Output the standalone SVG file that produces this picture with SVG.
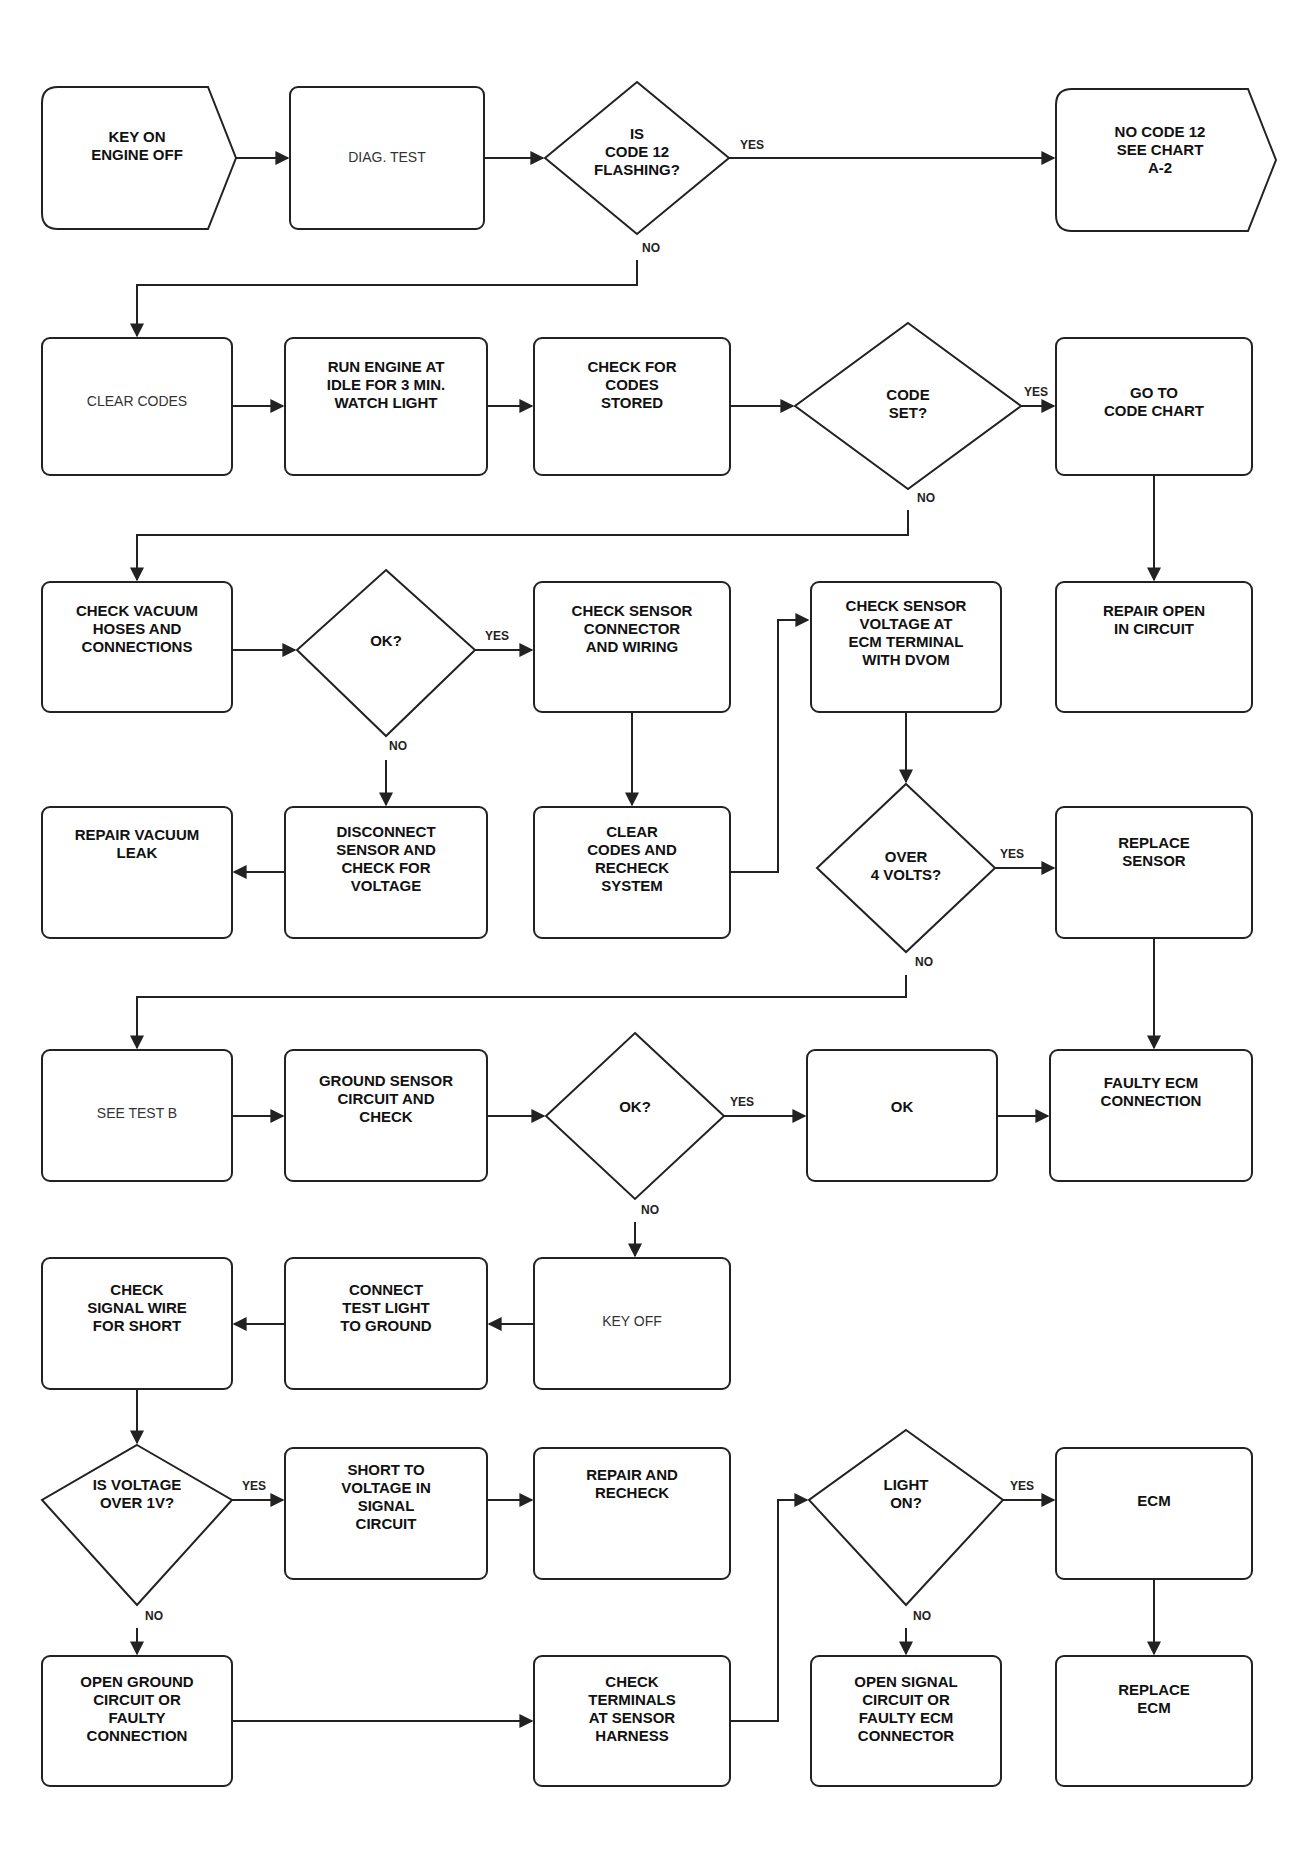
<svg xmlns="http://www.w3.org/2000/svg" width="1306" height="1855" viewBox="0 0 1306 1855">
<defs>
<marker id="ah" viewBox="0 0 10 10" refX="9" refY="5" markerWidth="7" markerHeight="7" orient="auto"><path d="M0,0 L10,5 L0,10 z" fill="#222"/></marker>
<style>
.b{fill:#fff;stroke:#222;stroke-width:2}
.c{fill:none;stroke:#222;stroke-width:2;marker-end:url(#ah)}
.t{font-family:"Liberation Sans",Arial,sans-serif;font-size:15px;font-weight:bold;text-anchor:middle;fill:#111}
.tl{font-family:"Liberation Sans",Arial,sans-serif;font-size:14px;text-anchor:middle;fill:#333}
.l{font-family:"Liberation Sans",Arial,sans-serif;font-size:12px;font-weight:bold;text-anchor:middle;fill:#222}
</style>
</defs>
<rect width="1306" height="1855" fill="#fff"/>
<g id="connectors">
<line class="c" x1="236" y1="158" x2="288" y2="158"/>
<line class="c" x1="484" y1="158" x2="543" y2="158"/>
<line class="c" x1="729" y1="158" x2="1054" y2="158"/>
<polyline class="c" points="637,260 637,285 137,285 137,336"/>
<line class="c" x1="232" y1="406" x2="283" y2="406"/>
<line class="c" x1="487" y1="406" x2="532" y2="406"/>
<line class="c" x1="730" y1="406" x2="793" y2="406"/>
<line class="c" x1="1021" y1="406" x2="1054" y2="406"/>
<polyline class="c" points="908,510 908,535 137,535 137,580"/>
<line class="c" x1="1154" y1="475" x2="1154" y2="580"/>
<line class="c" x1="232" y1="650" x2="295" y2="650"/>
<line class="c" x1="475" y1="650" x2="532" y2="650"/>
<line class="c" x1="386" y1="760" x2="386" y2="805"/>
<line class="c" x1="632" y1="712" x2="632" y2="805"/>
<line class="c" x1="906" y1="712" x2="906" y2="782"/>
<line class="c" x1="285" y1="872" x2="234" y2="872"/>
<polyline class="c" points="730,872 778,872 778,620 808,620"/>
<line class="c" x1="995" y1="868" x2="1054" y2="868"/>
<line class="c" x1="1154" y1="938" x2="1154" y2="1048"/>
<polyline class="c" points="906,975 906,997 137,997 137,1048"/>
<line class="c" x1="232" y1="1116" x2="283" y2="1116"/>
<line class="c" x1="487" y1="1116" x2="544" y2="1116"/>
<line class="c" x1="724" y1="1116" x2="805" y2="1116"/>
<line class="c" x1="997" y1="1116" x2="1048" y2="1116"/>
<line class="c" x1="635" y1="1222" x2="635" y2="1256"/>
<line class="c" x1="534" y1="1324" x2="489" y2="1324"/>
<line class="c" x1="285" y1="1324" x2="234" y2="1324"/>
<line class="c" x1="137" y1="1389" x2="137" y2="1443"/>
<line class="c" x1="232" y1="1500" x2="283" y2="1500"/>
<line class="c" x1="487" y1="1500" x2="532" y2="1500"/>
<line class="c" x1="137" y1="1628" x2="137" y2="1654"/>
<line class="c" x1="1003" y1="1500" x2="1054" y2="1500"/>
<line class="c" x1="1154" y1="1579" x2="1154" y2="1654"/>
<line class="c" x1="906" y1="1628" x2="906" y2="1654"/>
<polyline class="c" points="730,1721 778,1721 778,1500 807,1500"/>
<line class="c" x1="232" y1="1721" x2="532" y2="1721"/>
</g>
<g id="n1"><path class="b" d="M58,87 H208 L236,158 L208,229 H58 Q42,229 42,213 V103 Q42,87 58,87 Z"/><text class="t" x="137" y="142">KEY ON</text><text class="t" x="137" y="160">ENGINE OFF</text></g>
<g id="n2"><rect class="b" x="290" y="87" width="194" height="142" rx="8"/><text class="tl" x="387" y="162">DIAG. TEST</text></g>
<g id="n3"><polygon class="b" points="637,82 729,158 637,234 545,158"/><text class="t" x="637" y="139">IS</text><text class="t" x="637" y="157">CODE 12</text><text class="t" x="637" y="175">FLASHING?</text><text class="l" x="752" y="149">YES</text><text class="l" x="651" y="252">NO</text></g>
<g id="n4"><path class="b" d="M1072,89 H1248 L1276,160 L1248,231 H1072 Q1056,231 1056,215 V105 Q1056,89 1072,89 Z"/><text class="t" x="1160" y="137">NO CODE 12</text><text class="t" x="1160" y="155">SEE CHART</text><text class="t" x="1160" y="173">A-2</text></g>
<g id="n5"><rect class="b" x="42" y="338" width="190" height="137" rx="8"/><text class="tl" x="137" y="406">CLEAR CODES</text></g>
<g id="n6"><rect class="b" x="285" y="338" width="202" height="137" rx="8"/><text class="t" x="386" y="372">RUN ENGINE AT</text><text class="t" x="386" y="390">IDLE FOR 3 MIN.</text><text class="t" x="386" y="408">WATCH LIGHT</text></g>
<g id="n7"><rect class="b" x="534" y="338" width="196" height="137" rx="8"/><text class="t" x="632" y="372">CHECK FOR</text><text class="t" x="632" y="390">CODES</text><text class="t" x="632" y="408">STORED</text></g>
<g id="n8"><polygon class="b" points="908,323 1021,406 908,489 795,406"/><text class="t" x="908" y="400">CODE</text><text class="t" x="908" y="418">SET?</text><text class="l" x="1036" y="396">YES</text><text class="l" x="926" y="502">NO</text></g>
<g id="n9"><rect class="b" x="1056" y="338" width="196" height="137" rx="8"/><text class="t" x="1154" y="398">GO TO</text><text class="t" x="1154" y="416">CODE CHART</text></g>
<g id="n10"><rect class="b" x="42" y="582" width="190" height="130" rx="8"/><text class="t" x="137" y="616">CHECK VACUUM</text><text class="t" x="137" y="634">HOSES AND</text><text class="t" x="137" y="652">CONNECTIONS</text></g>
<g id="n11"><polygon class="b" points="386,570 475,650 386,736 297,650"/><text class="t" x="386" y="646">OK?</text><text class="l" x="497" y="640">YES</text><text class="l" x="398" y="750">NO</text></g>
<g id="n12"><rect class="b" x="534" y="582" width="196" height="130" rx="8"/><text class="t" x="632" y="616">CHECK SENSOR</text><text class="t" x="632" y="634">CONNECTOR</text><text class="t" x="632" y="652">AND WIRING</text></g>
<g id="n13"><rect class="b" x="811" y="582" width="190" height="130" rx="8"/><text class="t" x="906" y="611">CHECK SENSOR</text><text class="t" x="906" y="629">VOLTAGE AT</text><text class="t" x="906" y="647">ECM TERMINAL</text><text class="t" x="906" y="665">WITH DVOM</text></g>
<g id="n14"><rect class="b" x="1056" y="582" width="196" height="130" rx="8"/><text class="t" x="1154" y="616">REPAIR OPEN</text><text class="t" x="1154" y="634">IN CIRCUIT</text></g>
<g id="n15"><rect class="b" x="42" y="807" width="190" height="131" rx="8"/><text class="t" x="137" y="840">REPAIR VACUUM</text><text class="t" x="137" y="858">LEAK</text></g>
<g id="n16"><rect class="b" x="285" y="807" width="202" height="131" rx="8"/><text class="t" x="386" y="837">DISCONNECT</text><text class="t" x="386" y="855">SENSOR AND</text><text class="t" x="386" y="873">CHECK FOR</text><text class="t" x="386" y="891">VOLTAGE</text></g>
<g id="n17"><rect class="b" x="534" y="807" width="196" height="131" rx="8"/><text class="t" x="632" y="837">CLEAR</text><text class="t" x="632" y="855">CODES AND</text><text class="t" x="632" y="873">RECHECK</text><text class="t" x="632" y="891">SYSTEM</text></g>
<g id="n18"><polygon class="b" points="906,784 995,868 906,952 817,868"/><text class="t" x="906" y="862">OVER</text><text class="t" x="906" y="880">4 VOLTS?</text><text class="l" x="1012" y="858">YES</text><text class="l" x="924" y="966">NO</text></g>
<g id="n19"><rect class="b" x="1056" y="807" width="196" height="131" rx="8"/><text class="t" x="1154" y="848">REPLACE</text><text class="t" x="1154" y="866">SENSOR</text></g>
<g id="n20"><rect class="b" x="42" y="1050" width="190" height="131" rx="8"/><text class="tl" x="137" y="1118">SEE TEST B</text></g>
<g id="n21"><rect class="b" x="285" y="1050" width="202" height="131" rx="8"/><text class="t" x="386" y="1086">GROUND SENSOR</text><text class="t" x="386" y="1104">CIRCUIT AND</text><text class="t" x="386" y="1122">CHECK</text></g>
<g id="n22"><polygon class="b" points="635,1033 724,1116 635,1199 546,1116"/><text class="t" x="635" y="1112">OK?</text><text class="l" x="742" y="1106">YES</text><text class="l" x="650" y="1214">NO</text></g>
<g id="n23"><rect class="b" x="807" y="1050" width="190" height="131" rx="8"/><text class="t" x="902" y="1112">OK</text></g>
<g id="n24"><rect class="b" x="1050" y="1050" width="202" height="131" rx="8"/><text class="t" x="1151" y="1088">FAULTY ECM</text><text class="t" x="1151" y="1106">CONNECTION</text></g>
<g id="n25"><rect class="b" x="42" y="1258" width="190" height="131" rx="8"/><text class="t" x="137" y="1295">CHECK</text><text class="t" x="137" y="1313">SIGNAL WIRE</text><text class="t" x="137" y="1331">FOR SHORT</text></g>
<g id="n26"><rect class="b" x="285" y="1258" width="202" height="131" rx="8"/><text class="t" x="386" y="1295">CONNECT</text><text class="t" x="386" y="1313">TEST LIGHT</text><text class="t" x="386" y="1331">TO GROUND</text></g>
<g id="n27"><rect class="b" x="534" y="1258" width="196" height="131" rx="8"/><text class="tl" x="632" y="1326">KEY OFF</text></g>
<g id="n28"><polygon class="b" points="137,1445 232,1500 137,1605 42,1500"/><text class="t" x="137" y="1490">IS VOLTAGE</text><text class="t" x="137" y="1508">OVER 1V?</text><text class="l" x="254" y="1490">YES</text><text class="l" x="154" y="1620">NO</text></g>
<g id="n29"><rect class="b" x="285" y="1448" width="202" height="131" rx="8"/><text class="t" x="386" y="1475">SHORT TO</text><text class="t" x="386" y="1493">VOLTAGE IN</text><text class="t" x="386" y="1511">SIGNAL</text><text class="t" x="386" y="1529">CIRCUIT</text></g>
<g id="n30"><rect class="b" x="534" y="1448" width="196" height="131" rx="8"/><text class="t" x="632" y="1480">REPAIR AND</text><text class="t" x="632" y="1498">RECHECK</text></g>
<g id="n31"><polygon class="b" points="906,1430 1003,1500 906,1605 809,1500"/><text class="t" x="906" y="1490">LIGHT</text><text class="t" x="906" y="1508">ON?</text><text class="l" x="1022" y="1490">YES</text><text class="l" x="922" y="1620">NO</text></g>
<g id="n32"><rect class="b" x="1056" y="1448" width="196" height="131" rx="8"/><text class="t" x="1154" y="1506">ECM</text></g>
<g id="n33"><rect class="b" x="42" y="1656" width="190" height="130" rx="8"/><text class="t" x="137" y="1687">OPEN GROUND</text><text class="t" x="137" y="1705">CIRCUIT OR</text><text class="t" x="137" y="1723">FAULTY</text><text class="t" x="137" y="1741">CONNECTION</text></g>
<g id="n34"><rect class="b" x="534" y="1656" width="196" height="130" rx="8"/><text class="t" x="632" y="1687">CHECK</text><text class="t" x="632" y="1705">TERMINALS</text><text class="t" x="632" y="1723">AT SENSOR</text><text class="t" x="632" y="1741">HARNESS</text></g>
<g id="n35"><rect class="b" x="811" y="1656" width="190" height="130" rx="8"/><text class="t" x="906" y="1687">OPEN SIGNAL</text><text class="t" x="906" y="1705">CIRCUIT OR</text><text class="t" x="906" y="1723">FAULTY ECM</text><text class="t" x="906" y="1741">CONNECTOR</text></g>
<g id="n36"><rect class="b" x="1056" y="1656" width="196" height="130" rx="8"/><text class="t" x="1154" y="1695">REPLACE</text><text class="t" x="1154" y="1713">ECM</text></g>
</svg>
